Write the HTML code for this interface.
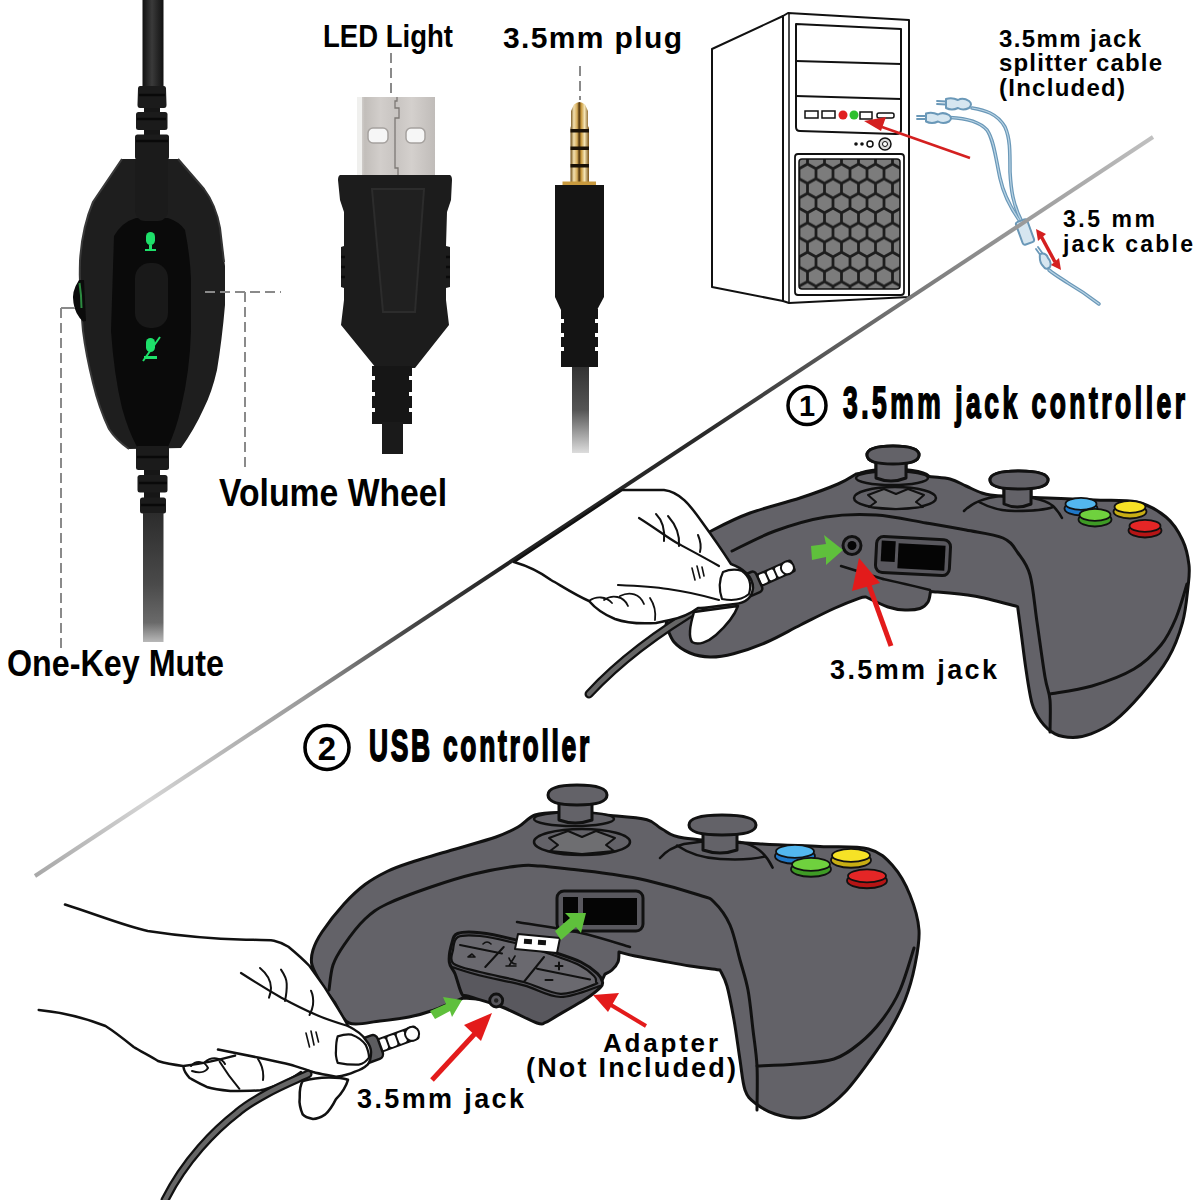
<!DOCTYPE html>
<html><head><meta charset="utf-8">
<style>
html,body{margin:0;padding:0;background:#fff;}
body{width:1194px;height:1200px;overflow:hidden;position:relative;}
svg{position:absolute;left:0;top:0;}
text{font-family:"Liberation Sans",sans-serif;}
</style></head><body>
<svg width="1194" height="1200" viewBox="0 0 1194 1200">
<defs>
  <linearGradient id="cab" x1="0" x2="1" y1="0" y2="0">
    <stop offset="0" stop-color="#111"/><stop offset="0.45" stop-color="#3a3a3a"/><stop offset="1" stop-color="#111"/>
  </linearGradient>
  <linearGradient id="cabfade" x1="0" x2="0" y1="0" y2="1">
    <stop offset="0" stop-color="#2c2c2c"/><stop offset="0.55" stop-color="#4a4a4a"/><stop offset="0.85" stop-color="#6a6a6a"/><stop offset="1" stop-color="#b8b8b8"/>
  </linearGradient>
  <linearGradient id="cabfade2" x1="0" x2="0" y1="0" y2="1">
    <stop offset="0" stop-color="#333"/><stop offset="0.5" stop-color="#555"/><stop offset="1" stop-color="#ddd"/>
  </linearGradient>
  <linearGradient id="metal" x1="0" x2="1" y1="0" y2="0">
    <stop offset="0" stop-color="#e8e6e4"/><stop offset="0.1" stop-color="#c2beba"/><stop offset="0.3" stop-color="#d2cecb"/><stop offset="0.5" stop-color="#c8c4c1"/><stop offset="0.7" stop-color="#d4d0cd"/><stop offset="1" stop-color="#c0bcb9"/>
  </linearGradient>
  <linearGradient id="gold" x1="0" x2="1" y1="0" y2="0">
    <stop offset="0" stop-color="#6a4a14"/><stop offset="0.18" stop-color="#f2dfae"/><stop offset="0.36" stop-color="#d4aa58"/><stop offset="0.47" stop-color="#4a300c"/><stop offset="0.58" stop-color="#c8983a"/><stop offset="0.76" stop-color="#f5e5b6"/><stop offset="1" stop-color="#7a5418"/>
  </linearGradient>
</defs>

<!-- ===== Headset in-line controller ===== -->
<g id="headset">
  <rect x="142.5" y="0" width="21" height="92" fill="url(#cab)"/>
  <rect x="144" y="100" width="16" height="40" fill="#161616"/>
  <path d="M140,86 L164,86 Q165.5,86 166,88 L166.5,105 Q166.5,108 164,108 L140,108 Q137.5,108 137.5,105 L138,88 Q138.5,86 140,86 Z" fill="#1b1b1b"/>
  <rect x="136" y="112" width="31.5" height="18" rx="2.5" fill="#1b1b1b"/>
  <rect x="135" y="134.5" width="34" height="25" rx="2.5" fill="#1b1b1b"/>
  <path d="M139,95 h26 M137,119 h29 M136,141 h32" stroke="#090909" stroke-width="2.5"/>
  <path d="M122,159 L178,159 L204,189 Q216,205 220,228 L225,266 L225,305 Q222,340 217,370 Q212,392 204,408 Q194,430 181,448 L129,449 Q116,440 109,429 Q99,408 93,383 Q86,355 83,331 Q79,296 80,261 Q82,228 93,202 Z" fill="#1e1e1e"/>
  <path d="M122,159 L93,202 Q82,228 80,261 Q79,296 83,331 Q86,355 93,383 Q99,408 109,429 Q116,440 129,449" fill="none" stroke="#3a3a3a" stroke-width="2"/>
  <path d="M178,159 L204,189 Q216,205 220,228 L224,262" fill="none" stroke="#333" stroke-width="2"/>
  <path d="M114,236 Q122,222 136,218 L168,218 Q180,222 185,230 Q190,255 191,279 L191,331 Q190,370 181,408 Q176,430 168,447 L137,447 Q128,430 122,408 Q114,375 111,331 Z" fill="#0a0a0a"/>
  <path d="M135,159 L168,159 L168,210 C168,216 164,221 158,221 L145,221 C139,221 135,216 135,210 Z" fill="#1b1b1b"/>
  <rect x="135" y="263" width="33" height="65" rx="15" fill="#191919"/>
  <path d="M79,280 Q71,292 73.5,303 Q75,314 83,321.5 L86,321 L84,280 Z" fill="#0b0b0b"/>
  <path d="M79.5,283 Q81.5,295 81.5,308" fill="none" stroke="#2c8a40" stroke-width="2"/>
  <!-- mic icon -->
  <rect x="146" y="232" width="9" height="13" rx="4.5" fill="#1ee06a"/>
  <rect x="149" y="245" width="3" height="4" fill="#1ee06a"/>
  <rect x="145" y="249" width="11" height="2" fill="#1ee06a"/>
  <!-- muted mic icon -->
  <rect x="146" y="338" width="9" height="14" rx="4.5" fill="#1ee06a"/>
  <rect x="144" y="356" width="13" height="3" fill="#1ee06a"/>
  <line x1="143" y1="361" x2="160" y2="337" stroke="#1ee06a" stroke-width="2"/>
  <rect x="144" y="460" width="16" height="55" fill="#161616"/>
  <rect x="136" y="446" width="33" height="24" rx="2.5" fill="#1b1b1b"/>
  <rect x="137.5" y="475" width="30" height="17.5" rx="2.5" fill="#1b1b1b"/>
  <rect x="140" y="497.5" width="26" height="16" rx="2.5" fill="#1b1b1b"/>
  <path d="M137,457 h31 M139,483 h28 M141,505 h24" stroke="#090909" stroke-width="2.5"/>
  <rect x="143" y="513" width="20.5" height="129" fill="url(#cabfade)"/>
</g>

<!-- ===== USB plug ===== -->
<g id="usb">
  <rect x="357" y="97" width="78" height="78" fill="url(#metal)"/>
  <rect x="357" y="97" width="5" height="78" fill="#f0f0ee"/>
  <path d="M397,97 v4 h-2 v7 h4 v10 h-4 v50 h3 v7" stroke="#7d7976" stroke-width="1.3" fill="none"/>
  <rect x="368" y="128" width="20" height="15" rx="5" fill="#f6f6f6" stroke="#a5a19e" stroke-width="1.5"/>
  <rect x="406" y="128" width="19" height="15" rx="5" fill="#f6f6f6" stroke="#a5a19e" stroke-width="1.5"/>
  <path d="M340,175 L450,175 Q452,176 452,180 L451,200 L447,212 L446,246 L450,247 L450,287 L446,288 L446,300 L449,325 L415,368 L376,368 L341,325 L344,300 L344,288 L341,287 L341,247 L344,246 L344,212 L340,200 L338,180 Q338,176 340,175 Z" fill="#1c1c1c"/>
  <path d="M341,257 h4 M341,267 h4 M341,277 h4 M446,257 h4 M446,267 h4 M446,277 h4" stroke="#0a0a0a" stroke-width="2.5"/>
  <path d="M372,189 L424,189 L415,312 L383,312 Z" fill="#202020" stroke="#2c2c2c" stroke-width="2"/>
  <path d="M372,366 h40 v10 h-3 v4 h3 v12 h-3 v4 h3 v12 h-3 v4 h3 v12 h-40 v-12 h3 v-4 h-3 v-12 h3 v-4 h-3 v-12 h3 v-4 h-3 z" fill="#161616"/>
  <rect x="382" y="422" width="21" height="32" fill="#1a1a1a"/>
</g>

<!-- ===== 3.5mm plug ===== -->
<g id="plug">
  <path d="M571,111 L574,104.5 Q579.5,99.5 585,104.5 L588,111 L588,126 L589,128 L589,184 L570.5,184 L570.5,128 L571,126 Z" fill="url(#gold)"/>
  <rect x="570.5" y="129" width="18.5" height="3.5" fill="#1a1208"/>
  <rect x="570.5" y="146.5" width="18.5" height="3.5" fill="#1a1208"/>
  <rect x="570.5" y="164" width="18.5" height="3.5" fill="#1a1208"/>
  <rect x="562.5" y="181.5" width="33.5" height="4" fill="#c99a3e"/>
  <path d="M555,185 h49 v112 l-7,13 h-36 l-6,-13 z" fill="#141414"/>
  <path d="M561,309 h37 v10 h-3 v4 h3 v10 h-3 v4 h3 v10 h-3 v4 h3 v16 h-37 v-16 h3 v-4 h-3 v-10 h3 v-4 h-3 v-10 h3 v-4 h-3 z" fill="#141414"/>
  <rect x="572" y="367" width="17" height="86" fill="url(#cabfade2)"/>
</g>

<!-- ===== Labels top ===== -->
<g fill="#000" font-weight="bold">
  <text x="323" y="47" font-size="30.5" textLength="130" lengthAdjust="spacingAndGlyphs">LED Light</text>
  <text x="503" y="48" font-size="30" textLength="179" lengthAdjust="spacing">3.5mm plug</text>
  <text x="219" y="506" font-size="39.5" textLength="228" lengthAdjust="spacingAndGlyphs">Volume Wheel</text>
  <text x="7" y="675.5" font-size="37.5" textLength="217" lengthAdjust="spacingAndGlyphs">One-Key Mute</text>
</g>
<g stroke="#8a8a8a" stroke-width="2" stroke-dasharray="10,5" fill="none">
  <line x1="391" y1="53" x2="391" y2="98"/>
  <line x1="580" y1="66" x2="580" y2="100"/>
  <line x1="205" y1="292" x2="281" y2="292"/>
  <line x1="245" y1="292" x2="245" y2="467"/>
  <line x1="61" y1="308" x2="61" y2="651"/>
  <line x1="61" y1="308" x2="75" y2="308" stroke-dasharray="none"/>
</g>

<!-- ===== PC tower ===== -->
<defs>
  <pattern id="hex" x="799" y="159" width="17" height="29.4" patternUnits="userSpaceOnUse">
    <rect width="17" height="29.4" fill="#1d1d1d"/>
    <g fill="#7c7c7c">
      <polygon points="0,-8.2 7.1,-4.1 7.1,4.1 0,8.2 -7.1,4.1 -7.1,-4.1"/>
      <polygon transform="translate(17,0)" points="0,-8.2 7.1,-4.1 7.1,4.1 0,8.2 -7.1,4.1 -7.1,-4.1"/>
      <polygon transform="translate(8.5,14.7)" points="0,-8.2 7.1,-4.1 7.1,4.1 0,8.2 -7.1,4.1 -7.1,-4.1"/>
      <polygon transform="translate(0,29.4)" points="0,-8.2 7.1,-4.1 7.1,4.1 0,8.2 -7.1,4.1 -7.1,-4.1"/>
      <polygon transform="translate(17,29.4)" points="0,-8.2 7.1,-4.1 7.1,4.1 0,8.2 -7.1,4.1 -7.1,-4.1"/>
    </g>
  </pattern>
</defs>
<g id="pc" stroke="#111" stroke-width="2" fill="#fff" stroke-linejoin="round">
  <path d="M712,49 L783,16 L783,301 L712,287 Z"/>
  <path d="M783,16 L788,13 L909,20 L909,297 L789,303 L783,301 Z"/>
  <line x1="789" y1="14" x2="789" y2="302" stroke-width="1.5"/>
  <path d="M796,24 L901,29 L901,130 Q901,134 896,134 L800,131 Q796,131 796,127 Z" stroke-width="2"/>
  <line x1="796" y1="61" x2="901" y2="64"/>
  <line x1="796" y1="96" x2="901" y2="99"/>
  <rect x="795" y="154" width="109" height="141" rx="3" stroke-width="1.8"/>
  <rect x="799" y="159" width="101" height="130" rx="3" fill="url(#hex)" stroke-width="1.5"/>
</g>
<g id="pcports">
  <rect x="805" y="111" width="13" height="7" fill="#fff" stroke="#111" stroke-width="1.5"/>
  <rect x="822" y="111" width="13" height="7" fill="#fff" stroke="#111" stroke-width="1.5"/>
  <circle cx="843" cy="115" r="4.5" fill="#e02020"/>
  <circle cx="854" cy="115" r="4.5" fill="#2fc02f"/>
  <rect x="860" y="112" width="12" height="7" fill="#fff" stroke="#111" stroke-width="1.5"/>
  <rect x="877" y="113" width="17" height="5" rx="2" fill="#fff" stroke="#111" stroke-width="1.5"/>
  <circle cx="856" cy="144" r="1.8" fill="#111"/>
  <circle cx="862" cy="144" r="1.8" fill="#111"/>
  <circle cx="870" cy="144" r="3" fill="#fff" stroke="#111" stroke-width="1.5"/>
  <circle cx="885" cy="144" r="6" fill="#ddd" stroke="#111" stroke-width="1.5"/>
  <circle cx="885" cy="144" r="2.5" fill="#fff" stroke="#111" stroke-width="1"/>
</g>
<!-- red arrow to PC -->
<line x1="970" y1="158" x2="882" y2="127" stroke="#d42020" stroke-width="2.5"/>
<polygon points="864,121 886,117 881,131" fill="#d42020"/>

<!-- splitter cable -->
<g id="splitter" fill="none" stroke-linecap="round" stroke-linejoin="round">
  <g stroke="#6a98b8" stroke-width="3.6">
    <path d="M972,108 C984,110 997,113 1005,127 C1010,138 1010,150 1010,172 C1011,190 1013,205 1022,222"/>
    <path d="M950,117.5 C962,118 978,120 987,130 C994,140 996,160 1000,178 C1003,192 1008,205 1022,224"/>
    <path d="M1049,270 C1055,275 1062,279 1068,283 C1080,290 1090,297 1099,304"/>
  </g>
  <g stroke="#b9d3e4" stroke-width="1.2">
    <path d="M972,108 C984,110 997,113 1005,127 C1010,138 1010,150 1010,172 C1011,190 1013,205 1022,222"/>
    <path d="M950,117.5 C962,118 978,120 987,130 C994,140 996,160 1000,178 C1003,192 1008,205 1022,224"/>
    <path d="M1049,270 C1055,275 1062,279 1068,283 C1080,290 1090,297 1099,304"/>
  </g>
  <g stroke="#6a98b8" stroke-width="2" fill="#d6e6f0">
    <path d="M937,101 L946,101.5 M937,104 L946,104.5" stroke-width="1.8"/>
    <path d="M946,99 Q952,97 958,100 Q963,97 969,101 Q973,104 969,108 Q963,111 958,108 Q952,111 946,108 Z"/>
    <path d="M917,116 L926,116 M917,119 L926,119" stroke-width="1.8"/>
    <path d="M926,113.5 Q932,111.5 938,114.5 Q943,111.5 949,115 Q953,118 949,121.5 Q943,124.5 938,121.5 Q932,124.5 926,121.5 Z"/>
    <rect x="1019" y="220" width="12" height="24" rx="2.5" transform="rotate(-20 1025 232)"/>
    <path d="M1036,249 L1041,256 M1038,247 L1043,254" stroke-width="1.8"/>
    <path d="M1040,254 Q1046,252 1048,258 Q1052,262 1050,267 Q1046,271 1043,266 Q1039,262 1040,254 Z"/>
  </g>
</g>
<g stroke="#d42020" stroke-width="3.5">
  <line x1="1041" y1="236" x2="1055" y2="262"/>
</g>
<polygon points="1036,229 1046,234 1038,241" fill="#d42020"/>
<polygon points="1061,270 1051,265 1059,258" fill="#d42020"/>

<g fill="#000" font-weight="bold">
  <text x="999" y="47" font-size="24" textLength="142" lengthAdjust="spacing">3.5mm jack</text>
  <text x="999" y="71" font-size="24" textLength="163" lengthAdjust="spacing">splitter cable</text>
  <text x="999" y="96" font-size="24" textLength="126" lengthAdjust="spacing">(Included)</text>
  <text x="1063" y="227" font-size="23" textLength="92" lengthAdjust="spacing">3.5 mm</text>
  <text x="1063" y="252" font-size="23" textLength="130" lengthAdjust="spacing">jack cable</text>
</g>

<!-- big diagonal -->
<defs>
  <linearGradient id="diag" gradientUnits="userSpaceOnUse" x1="35" y1="876" x2="1153" y2="137">
    <stop offset="0" stop-color="#a8a8a8"/>
    <stop offset="0.1" stop-color="#d4d4d4"/>
    <stop offset="0.24" stop-color="#9a9a9a"/>
    <stop offset="0.33" stop-color="#4a4a4a"/>
    <stop offset="0.42" stop-color="#222"/>
    <stop offset="0.6" stop-color="#2a2a2a"/>
    <stop offset="0.7" stop-color="#555"/>
    <stop offset="0.78" stop-color="#777"/>
    <stop offset="0.88" stop-color="#999"/>
    <stop offset="1" stop-color="#c0c0c0"/>
  </linearGradient>
</defs>
<line x1="35" y1="876" x2="1153" y2="137" stroke="url(#diag)" stroke-width="4"/>

<g id="ctrl1" stroke="#111" stroke-width="3" stroke-linejoin="round" stroke-linecap="round">
<ellipse cx="892" cy="477" rx="37" ry="8" fill="#636268" stroke-width="2.5"/>
<path d="M876,460 L876,477 Q891,483 906,477 L906,460 Z" fill="#636268"/>
<path d="M867,455 Q867,446 893,446 Q919,446 919,455 Q919,464 893,464 Q867,464 867,455 Z" fill="#636268"/>
<path d="M1004,485 L1004,504 Q1017,510 1031,504 L1031,485 Z" fill="#636268"/>
<path d="M990,480 Q990,471 1019,471 Q1048,471 1048,480 Q1048,489 1019,489 Q990,489 990,480 Z" fill="#636268"/>
<path d="M680,560 C682.5,557 689.5,547 695,542 C700.5,537 703.8,534.8 713,530 C722.2,525.2 735.5,518.3 750,513 C764.5,507.7 785.3,502.8 800,498 C814.7,493.2 828.7,488 838,484 C847.3,480 853,475.7 856,474 C861.7,473.3 878.3,469.7 890,470 C901.7,470.3 916,474.5 926,476 C936,477.5 943.3,477.3 950,479 C956.7,480.7 960.7,483.7 966,486 C971.3,488.3 976.3,491.3 982,493 C987.7,494.7 989,495.2 1000,496 C1011,496.8 1032.2,497.3 1048,498 C1063.8,498.7 1080.2,499.3 1095,500 C1109.8,500.7 1125.2,499.2 1137,502 C1148.8,504.8 1158.4,510.7 1166,517 C1173.6,523.3 1178.7,532 1182.5,540 C1186.3,548 1188.1,557.2 1189,565 C1189.9,572.8 1189.1,577.4 1188,587 C1186.9,596.6 1185.8,610.8 1182.5,622.7 C1179.2,634.6 1174.9,646.7 1168,658.6 C1161.1,670.5 1150,684 1141,694.4 C1132,704.8 1122.3,714.7 1114,721.3 C1105.7,727.9 1097.8,731.1 1091,733.8 C1084.2,736.5 1079,737.4 1073,737.4 C1067,737.4 1060.3,736.5 1055,733.8 C1049.7,731.1 1044.8,726.4 1041,721.3 C1037.2,716.2 1034.5,712.4 1032,703.4 C1029.5,694.4 1027.5,679.5 1025.7,667.5 C1023.9,655.5 1022.4,641.9 1021,631.7 C1019.6,621.6 1018.2,610.8 1017.6,606.6 C1010.3,604.8 988.5,598.5 974,596 C959.5,593.5 937.8,592.2 930.5,591.5 C930.1,593.2 929.8,599.2 928,602 C926.2,604.8 923.8,607.2 920,608.5 C916.2,609.8 910.3,610.2 905,610 C899.7,609.8 894.5,609.2 888,607 C881.5,604.8 869.7,598.7 866,597 C864.8,597.2 864.3,596.5 859,598.4 C853.7,600.3 843.8,604.1 834,608.5 C824.2,612.9 811.7,619.4 800.5,625 C789.3,630.6 778.2,637.2 767,642 C755.8,646.8 743,651.2 733.5,653.7 C724,656.2 717.2,657.1 710,657 C702.8,656.9 696,655.5 690,653 C684,650.5 678,646.7 674,642 C670,637.3 667.3,627.8 666,625 L680,560 Z" fill="#636268"/>
<path d="M964,511 C972,503 982,498 1000,496 C1025,495 1045,499 1053,506 C1057,510 1060,514 1062,518" fill="none" stroke-width="2.5"/>
<path d="M979,502 C990,508 1000,511 1015,511 C1030,511 1045,510 1053,507" fill="none" stroke-width="2.5"/>
<path d="M1004,488 L1004,504 Q1017,510 1031,504 L1031,488" fill="#636268"/>
<path d="M990,480 Q990,471 1019,471 Q1048,471 1048,480 Q1048,489 1019,489 Q990,489 990,480 Z" fill="#636268"/>
<ellipse cx="892" cy="478" rx="36" ry="7" fill="#636268" stroke-width="2.5"/>
<path d="M876,460 L876,478 Q891,484 906,478 L906,460" fill="#636268"/>
<path d="M867,455 Q867,446 893,446 Q919,446 919,455 Q919,464 893,464 Q867,464 867,455 Z" fill="#636268"/>
<ellipse cx="895" cy="498" rx="41" ry="11" fill="#636268" stroke-width="2.5"/>
<path d="M868,495 L884,489 L896,494 L908,489 L924,495 L916,502 L923,507 L896,509 L869,507 L876,502 Z" fill="#6e6e71" stroke-width="2"/>
<path d="M732,551 C739.2,547.7 759.3,536.7 775,531 C790.7,525.3 809.2,519.7 826,517 C842.8,514.3 859.3,514 876,515 C892.7,516 911,520.5 926,523 C941,525.5 953.2,527.5 966,530 C978.8,532.5 994.3,534.2 1003,538 C1011.7,541.8 1013.5,546.8 1018,553 C1022.5,559.2 1026.8,563.5 1030,575 C1033.2,586.5 1034.5,605 1037,622 C1039.5,639 1042.8,664 1045,677 C1047.2,690 1049.2,690.8 1050,700 C1050.8,709.2 1050,726.7 1050,732" fill="none"/>
<path d="M1050,694 C1057,692.7 1078,690.2 1092,686 C1106,681.8 1122.5,675.8 1134,669 C1145.5,662.2 1154,653.5 1161,645 C1168,636.5 1171.7,628.2 1176,618 C1180.3,607.8 1185.2,589.7 1187,584" fill="none"/>
<path d="M883,579 C886.7,579.8 897.2,582.2 905,584 C912.8,585.8 925.8,589 930,590" fill="none" stroke-width="2.5"/>
<g transform="rotate(3 912 556)"><rect x="876" y="538" width="74" height="36" rx="7" fill="#59585e" stroke-width="3"/>
<rect x="881" y="542" width="14" height="21" fill="#050505" stroke="none"/>
<rect x="898" y="544" width="47" height="25" fill="#050505" stroke="none"/></g>
<circle cx="852" cy="545.5" r="9" fill="#59585e" stroke-width="3"/>
<circle cx="852" cy="545.5" r="4.5" fill="#050505" stroke="none"/>
<line x1="841" y1="566" x2="883" y2="579" stroke-width="2.5"/>
</g>
<g stroke="#111" stroke-width="1.8">
<ellipse cx="1081" cy="508.5" rx="16.5" ry="7" fill="#1f78c8"/>
<ellipse cx="1081" cy="503.95" rx="15.5" ry="6" fill="#53b7ef"/>
<ellipse cx="1130" cy="511.5" rx="16.5" ry="7" fill="#c8ae14"/>
<ellipse cx="1130" cy="506.95" rx="15.5" ry="6" fill="#f6e226"/>
<ellipse cx="1095" cy="519.5" rx="16.5" ry="7" fill="#3e9b25"/>
<ellipse cx="1095" cy="514.95" rx="15.5" ry="6" fill="#6fd13e"/>
<ellipse cx="1145" cy="530.5" rx="16.5" ry="7" fill="#b51515"/>
<ellipse cx="1145" cy="525.95" rx="15.5" ry="6" fill="#e52626"/>
</g>
<polygon points="811,546 826,544 824,535 843,550 826,565 826,557 812,560" fill="#5fc03c"/>
<line x1="891" y1="646" x2="866" y2="577" stroke="#e31b1b" stroke-width="5"/>
<polygon points="859,558 852,591 880,583" fill="#e31b1b"/>
<text x="830" y="679" font-size="27" font-weight="bold" fill="#000" textLength="167" lengthAdjust="spacing">3.5mm jack</text>
<g id="hand1" stroke="#111" stroke-width="2.5" stroke-linejoin="round" stroke-linecap="round">
  <path d="M706,604 C670,625 625,655 589,694" fill="none" stroke="#111" stroke-width="9"/>
  <path d="M706,604 C670,625 625,655 589,694" fill="none" stroke="#666" stroke-width="4.5"/>
  <path d="M694,612 C690,625 688,636 692,642 C698,646 708,642 716,635 C726,626 734,617 738,606 Z" fill="#fff"/>
  <g transform="rotate(-24 760 580)">
    <rect x="757" y="573" width="40" height="14" rx="3" fill="#111" stroke="none"/>
    <rect x="760" y="575" width="7" height="10" rx="2" fill="#fff" stroke="none"/>
    <rect x="769" y="575" width="7" height="10" rx="2" fill="#fff" stroke="none"/>
    <rect x="778" y="575" width="7" height="10" rx="2" fill="#fff" stroke="none"/>
    <circle cx="790" cy="580" r="6.5" fill="#fff" stroke-width="2"/>
    <rect x="741" y="569" width="18" height="22" rx="4" fill="#5c5c5f" stroke-width="2.5"/>
  </g>
  <path d="M622,490 L664,490 C680,492 690,505 702,522 C710,533 720,547 731,564 C742,568 753,576 753,588 C752,598 745,603 735,604 L718,606 C710,607 703,608 698,608 C690,614 680,618 670,620 L656,623 C640,624 626,623 615,619 C605,615 595,608 589,601 C575,595 560,585 551,580 C540,572 528,566 514,562 Z" fill="#fff"/>
  <path d="M723,572 C728,570 736,569 742,571 C749,576 752,584 749,594 C742,600 732,601 722,599 C719,590 719,580 723,572 Z" fill="#fff" stroke-width="2.2"/>
  <path d="M618,585 C640,586 655,587 668,589 C690,592 705,596 719,600" fill="none" stroke-width="2.2"/>
  <path d="M639,518 C655,528 668,538 677,543 C690,550 705,558 719,566" fill="none" stroke-width="2.2"/>
  <path d="M656,514 C662,520 665,530 664,541" fill="none" stroke-width="2"/>
  <path d="M668,516 C676,525 680,535 679,546" fill="none" stroke-width="2"/>
  <path d="M698,535 C701,542 701,548 700,552" fill="none" stroke-width="2"/>
  <path d="M589,601 C596,596 606,596 612,603 M604,600 C612,594 624,596 628,606 M620,596 C630,591 640,594 644,604" fill="none" stroke-width="1.8"/>
  <path d="M650,598 C654,604 656,612 655,620" fill="none" stroke-width="1.8"/>
  <path d="M692,568 L695,580 M697,566 L700,578 M702,567 L704,576" fill="none" stroke-width="1.6"/>
</g>
<text transform="translate(843,418) scale(0.6,1)" x="0" y="0" font-size="44" font-weight="bold" fill="#000" stroke="#000" stroke-width="1.8" textLength="570" lengthAdjust="spacing">3.5mm jack controller</text>
<circle cx="807" cy="405.5" r="19" fill="none" stroke="#000" stroke-width="3.5"/>
<text x="807" y="416" font-size="29" font-weight="bold" fill="#000" text-anchor="middle">1</text>
<g id="ctrl2" stroke="#111" stroke-width="3" stroke-linejoin="round" stroke-linecap="round">
<path d="M335,1003 C332.8,1000 325.8,991.3 322,985 C318.2,978.7 313.5,970.8 312,965 C310.5,959.2 311.3,955.5 313,950 C314.7,944.5 316.8,939.7 322,932 C327.2,924.3 336.8,911.9 344,904 C351.2,896.1 357.8,889.9 365,884.5 C372.2,879.1 379.7,875.1 387,871.5 C394.3,867.9 398.2,866.6 409,863 C419.8,859.4 437.5,854.3 452,850 C466.5,845.7 485,840.8 496,837 C507,833.2 511.5,830.7 518,827 C524.5,823.3 528,817.4 535,815 C542,812.6 547.4,812.4 560,812.5 C572.6,812.6 596,814.3 610.5,815.5 C625,816.7 638.4,817.5 647,819.7 C655.6,822 655.8,826 662,829 C668.2,832 668,835.5 684,838 C700,840.5 735.3,842.3 758,843.7 C780.7,845.1 801.6,845.6 820,846.5 C838.4,847.4 856.3,845.8 868.5,849 C880.7,852.2 886.1,858.3 893,866 C899.9,873.7 905.7,884.3 910,895 C914.3,905.7 918.2,918.3 919,930 C919.8,941.7 917.3,953.3 915,965 C912.7,976.7 909.2,989.2 905,1000 C900.8,1010.8 895.8,1020 890,1030 C884.2,1040 877.5,1049.7 870,1060 C862.5,1070.3 853.3,1083.3 845,1092 C836.7,1100.7 827.5,1107.7 820,1112 C812.5,1116.3 807.5,1117.7 800,1118 C792.5,1118.3 782.5,1116.5 775,1114 C767.5,1111.5 760,1107 755,1103 C750,1099 747.5,1097.2 745,1090 C742.5,1082.8 741.8,1071.7 740,1060 C738.2,1048.3 736.2,1032.3 734,1020 C731.8,1007.7 729.3,994.3 727,986 C724.7,977.7 721.2,972.7 720,970 C715,969.3 699.7,967.5 690,966 C680.3,964.5 671.2,962.7 662,961 C652.8,959.3 642.2,957.5 635,956 C627.8,954.5 621.7,952.7 619,952 C618.8,953.7 619.2,959 618,962 C616.8,965 614.2,968 612,970 C609.8,972 606.2,973.3 605,974 L600,985 C586.7,987.5 542.8,997.8 520,1000 C497.2,1002.2 472.5,998.3 463,998 C457.7,1000.2 440,1007.8 431,1011 C422,1014.2 417.5,1015.3 409,1017 C400.5,1018.7 390,1020 380,1021 C370,1022 356.5,1026 349,1023 C341.5,1020 337.3,1006.3 335,1003 Z" fill="#636268"/>
<ellipse cx="574" cy="819" rx="40" ry="7" fill="#636268" stroke-width="2.5"/>
<path d="M559,800 L559,820 Q575,826 592,820 L592,800" fill="#636268"/>
<path d="M548,795 Q548,785 577,785 Q607,785 607,795 Q607,805 577,805 Q548,805 548,795 Z" fill="#636268"/>
<ellipse cx="582" cy="842" rx="48" ry="13" fill="#636268" stroke-width="2.5"/>
<path d="M549,838 L568,831 L582,837 L596,831 L615,838 L606,845 L614,851 L582,854 L550,851 L558,845 Z" fill="#6e6e71" stroke-width="2"/>
<path d="M660,858 C666,851 672,847 684,844 C700,841 720,840 740,842 C755,845 765,852 772.6,867.6" fill="none" stroke-width="2.5"/>
<path d="M677,845.5 C688,853 700,858 720,859 C740,860 755,859 765,856.6" fill="none" stroke-width="2.5"/>
<path d="M703,828 L703,850 Q720,856 737,850 L737,828" fill="#636268"/>
<path d="M689,825 Q689,815 722,815 Q756,815 756,825 Q756,835 722,835 Q689,835 689,825 Z" fill="#636268"/>
<path d="M329,990 C329.7,985.8 330.5,972.5 333,965 C335.5,957.5 338.7,952.7 344,945 C349.3,937.3 357.8,925.8 365,919 C372.2,912.2 376,909.3 387,904 C398,898.7 416.5,892 431,887 C445.5,882 459.5,877.5 474,874 C488.5,870.5 507,867.3 518,866 C529,864.7 530.7,865.4 540,866 C549.3,866.6 562.3,868.2 574,869.5 C585.7,870.8 597.8,872.2 610,874 C622.2,875.8 632.2,877 647,880.5 C661.8,884 687.8,891.4 699,895 C710.2,898.6 708.8,897 714,902 C719.2,907 725.7,915.3 730,925 C734.3,934.7 737,949.2 740,960 C743,970.8 745.8,978.3 748,990 C750.2,1001.7 751.5,1017.3 753,1030 C754.5,1042.7 756.3,1052.7 757,1066 C757.7,1079.3 757,1102.7 757,1110" fill="none"/>
<path d="M757,1066 C763.5,1065.7 783.2,1065.2 796,1064 C808.8,1062.8 823.3,1062.5 834,1059 C844.7,1055.5 852,1049.5 860,1043 C868,1036.5 875.3,1028.8 882,1020 C888.7,1011.2 894.7,1002 900,990 C905.3,978 911.7,955 914,948" fill="none"/>
<rect x="557" y="891" width="86" height="40" rx="7" fill="#59585e" stroke-width="3"/>
<rect x="563" y="897" width="15" height="26" fill="#050505" stroke="none"/>
<rect x="583" y="898" width="54" height="27" fill="#050505" stroke="none"/>
<path d="M517,922 C527.7,923.8 562.2,928.8 581,933 C599.8,937.2 621.8,944.7 630,947" fill="none" stroke-width="2.5"/>
</g>
<g stroke="#111" stroke-width="1.8">
<ellipse cx="795" cy="856.25" rx="20" ry="7.5" fill="#1f78c8"/>
<ellipse cx="795" cy="851.375" rx="19" ry="6.5" fill="#53b7ef"/>
<ellipse cx="851" cy="860.25" rx="20" ry="7.5" fill="#c8ae14"/>
<ellipse cx="851" cy="855.375" rx="19" ry="6.5" fill="#f6e226"/>
<ellipse cx="811" cy="869.25" rx="20" ry="7.5" fill="#3e9b25"/>
<ellipse cx="811" cy="864.375" rx="19" ry="6.5" fill="#6fd13e"/>
<ellipse cx="867" cy="880.75" rx="20" ry="7.5" fill="#b51515"/>
<ellipse cx="867" cy="875.875" rx="19" ry="6.5" fill="#e52626"/>
</g>
<g id="adapter" stroke="#111" stroke-width="2.5" stroke-linejoin="round" stroke-linecap="round">
<path d="M457.6,933.5 C462.3,931.7 470.6,931.7 480,932.7 C489.4,933.7 502.6,936.5 513.8,939.4 C525,942.3 536.1,946.2 547.3,950 C558.5,953.8 572.4,958 580.8,962 C589.2,966 593.9,970.4 597.5,973.7 C601.1,977 602,979.8 602.5,982 C603,984.2 602.8,984.8 600.8,987 C598.8,989.2 594.1,993 590.8,995.5 C587.5,998 586.4,998.6 580.8,1002 C575.2,1005.4 563.2,1012.2 557.3,1015.6 C551.4,1019 549,1021.1 545.6,1022.3 C542.2,1023.5 544.3,1025.5 537,1023 C529.7,1020.5 513.4,1011.5 502,1007 C490.6,1002.5 475.2,998.5 468.5,996.3 C461.8,994.1 464.1,997.6 461.8,993.8 C459.6,990 457.1,979 455,973.7 C452.9,968.4 449.8,967 449.3,962 C448.8,957 450.4,948.2 451.8,943.5 C453.2,938.8 452.9,935.3 457.6,933.5 Z" fill="#59585e" stroke-width="3"/>
<path d="M458,937 C462.5,934.7 470.8,935.1 480,936 C489.2,936.9 501.8,939.7 513,942.5 C524.2,945.3 536,949.2 547,953 C558,956.8 571.2,961.2 579,965 C586.8,968.8 591.2,973.2 594,976 C596.8,978.8 596,980.6 596,982 C596,983.4 599.9,982.6 594,984.6 C588.1,986.6 572.3,994.2 560.6,993.8 C548.9,993.4 537.2,985.6 523.8,982 C510.4,978.4 491.7,975.1 480,972 C468.3,968.9 458,967.3 453.5,963.6 C449,959.9 452.2,954.4 453,950 C453.8,945.6 453.5,939.3 458,937 Z" fill="#6a696f" stroke-width="2.2"/>
<path d="M451.8,967 C456.5,968.4 468,972.4 480,975.5 C492,978.6 510.4,981.8 523.8,985.4 C537.2,989 547.9,996.9 560.6,997 C573.3,997.1 593.4,987.8 600,986" fill="none" stroke-width="2.2"/>
<path d="M460,945 L502,953.6 M503.7,947 L485.3,967 M544,957 L523.8,982 M537,968.7 L590,979.5" fill="none" stroke-width="2"/>
<path d="M555.5,966 h7 M559,962.5 v7 M545.5,980 h7" fill="none" stroke-width="2"/>
<path d="M483,944 q4,-4 8,0 M468,957 l4,-3 l3,3 z M509,958 q2,6 7,6 M506,966 h10 M515,956 l-6,10" fill="none" stroke-width="1.6"/>
<circle cx="496.2" cy="1000.5" r="6.5" fill="#59585e" stroke-width="2.8"/>
<circle cx="496.2" cy="1000.5" r="2.2" fill="#222" stroke="none"/>
<path d="M518,934 L560,938 L557,953 L515,949 Z" fill="#fff" stroke-width="2"/>
<rect x="524" y="939" width="8" height="5" fill="#111" stroke="none" transform="rotate(4 528 941)"/>
<rect x="538" y="940" width="8" height="5" fill="#111" stroke="none" transform="rotate(4 542 942)"/>
</g>
<polygon points="555,931 570,918 565,913 586,913 581,933 576,927 561,940" fill="#5fc03c"/>
<polygon points="430,1011 446,1004 443,997 462,1000 452,1017 450,1011 435,1019" fill="#5fc03c"/>
<line x1="432" y1="1080" x2="482" y2="1026" stroke="#e31b1b" stroke-width="5"/>
<polygon points="492,1013 464,1025 481,1041" fill="#e31b1b"/>
<line x1="646" y1="1026" x2="606" y2="1002" stroke="#e31b1b" stroke-width="4"/>
<polygon points="593,995 619,993 608,1012" fill="#e31b1b"/>
<g id="hand2" stroke="#111" stroke-width="2.5" stroke-linejoin="round" stroke-linecap="round">
  <g transform="rotate(-20 380 1045)">
    <rect x="376" y="1038" width="44" height="15" rx="3" fill="#111" stroke="none"/>
    <rect x="379" y="1040" width="8" height="11" rx="2" fill="#fff" stroke="none"/>
    <rect x="389" y="1040" width="8" height="11" rx="2" fill="#fff" stroke="none"/>
    <rect x="399" y="1040" width="8" height="11" rx="2" fill="#fff" stroke="none"/>
    <circle cx="414" cy="1045.5" r="7" fill="#fff" stroke-width="2"/>
    <rect x="358" y="1033" width="22" height="25" rx="5" fill="#5c5c5f" stroke-width="2.5"/>
  </g>
  <path d="M0,925 L65,904.5 C95,914 125,926 147.7,931 C180,936 220,939 246,939.7 C260,940 268,940 274,940.7 C280,942 284,944 288.4,946.7 C296,953 303,959 309.5,966 C320,980 330,995 337.7,1008 C342,1015 345,1020 348,1026 C356,1030 362,1034 365.8,1040 C369,1044 371,1048 371,1052 C371,1058 370,1062 367.6,1064.6 C364,1068 360,1070 355,1071.6 C350,1074 345,1076 340,1077 C345,1079 347,1079 348,1079.8 C345,1090 340,1095 335.8,1099.4 C332,1107 328,1112 325.3,1114.4 C320,1118 316,1119 313,1119 C308,1118 304,1116 302.7,1114.4 C300,1108 299,1103 299.7,1097.8 C300,1090 301,1085 302.7,1081 C295,1082 290,1083 283,1082.8 C275,1086 268,1089 260.5,1090.3 C250,1091 240,1091 230.3,1091 C220,1090 213,1089 207.7,1087.3 C200,1084 195,1081 189.6,1078 C186,1074 184,1071 183.6,1067.7 C175,1066 165,1064 158,1061 C150,1056 140,1051 133.7,1047 C125,1040 115,1032 105.5,1026 C85,1018 60,1012 38.7,1010 L0,1003 Z" fill="#fff" stroke="none"/>
  <path d="M65,904.5 C95,914 125,926 147.7,931 C180,936 220,939 246,939.7 C260,940 268,940 274,940.7 C280,942 284,944 288.4,946.7 C296,953 303,959 309.5,966 C320,980 330,995 337.7,1008 C342,1015 345,1020 348,1026" fill="none"/>
  <path d="M348,1026 C356,1030 362,1034 365.8,1040 C369,1044 371,1048 371,1052 C371,1058 370,1062 367.6,1064.6 C364,1068 360,1070 355,1071.6 C348,1075 342,1076 336,1076.7 C328,1075 320,1074 313,1072 C305,1069 298,1067 290.6,1064.7 C280,1062 270,1060 260.5,1058 C245,1055 230,1052 218,1049.6" fill="none"/>
  <path d="M38.7,1010 C60,1012 85,1018 105.5,1026 C115,1032 125,1040 133.7,1047 C140,1051 150,1056 158,1061 C168,1064 176,1065 183.6,1066 C200,1064 215,1061 235,1055.6" fill="none"/>
  <path d="M183.6,1067.7 C184,1071 186,1074 189.6,1078 C195,1081 200,1084 207.7,1087.3 C213,1089 220,1090 230.3,1091 C240,1091 250,1091 260.5,1090.3 C268,1089 275,1086 283,1082.8 C290,1079 296,1076 301,1072" fill="none"/>
  <path d="M219.7,1061.7 C226,1072 232,1080 239.4,1088.8 M191,1066 C196,1060 205,1061 208,1068 C205,1073 198,1073 192,1071 M205,1062 C212,1056 222,1058 225,1064 M258,1059 C262,1065 264,1072 263,1080" fill="none" stroke-width="2"/>
  <path d="M241,973 C255,982 268,990 281.4,997.7 C295,1005 305,1010 316.6,1015 C328,1020 338,1023 348,1026" fill="none" stroke-width="2.2"/>
  <path d="M260,968 C266,973 271,980 271,988 C271,992 270,995 269,997.7 M281,969.6 C284,974 286.7,979 286.7,983.7 C287,990 286,996 285,1001 M311,990.7 C313,995 313.5,1000 313,1004.8 C312.5,1009 311,1012 309.5,1015" fill="none" stroke-width="2"/>
  <path d="M337.7,1036.4 C342,1035 347,1034 351.7,1034.7 C358,1037 363,1041 365.8,1045 C368,1050 369,1054 369,1057.5 C366,1062 362,1064 358.8,1064.6 C350,1065 344,1064 337.7,1062.8 C336,1058 335.5,1054 336,1050.5 C336,1045 336.5,1040 337.7,1036.4 Z" fill="#fff" stroke-width="2.2"/>
  <path d="M306,1033 L309.5,1047 M311,1031 L314,1045 M316,1032 L318.5,1042" fill="none" stroke-width="1.6"/>
  <path d="M308,1074 C295,1080 280,1086 266,1094 C255,1100 245,1106 237,1113 C215,1130 185,1160 165,1200" fill="none" stroke="#111" stroke-width="9"/>
  <path d="M308,1074 C295,1080 280,1086 266,1094 C255,1100 245,1106 237,1113 C215,1130 185,1160 165,1200" fill="none" stroke="#666" stroke-width="4.5"/>
  <path d="M302.7,1081 C300,1085 299.5,1090 299.7,1097.8 C299,1103 300,1108 302.7,1114.4 C304,1116 308,1118 313,1119 C316,1119 320,1118 325.3,1114.4 C328,1112 332,1107 335.8,1099.4 C340,1095 345,1090 348,1079.8 C340,1077 320,1076 302.7,1081 Z" fill="#fff"/>
</g>
<g fill="#000" font-weight="bold">
  <text x="357" y="1108" font-size="27" textLength="167" lengthAdjust="spacing">3.5mm jack</text>
  <text x="603" y="1052" font-size="26" textLength="115" lengthAdjust="spacing">Adapter</text>
  <text x="526" y="1077" font-size="27" textLength="210" lengthAdjust="spacing">(Not Included)</text>
</g>
<text transform="translate(369,761) scale(0.6,1)" x="0" y="0" font-size="44" font-weight="bold" fill="#000" stroke="#000" stroke-width="1.8" textLength="367" lengthAdjust="spacing">USB controller</text>
<circle cx="327" cy="747.5" r="22" fill="none" stroke="#000" stroke-width="3.6"/>
<text x="327" y="759.5" font-size="33" font-weight="bold" fill="#000" text-anchor="middle">2</text>
</svg>
</body></html>
